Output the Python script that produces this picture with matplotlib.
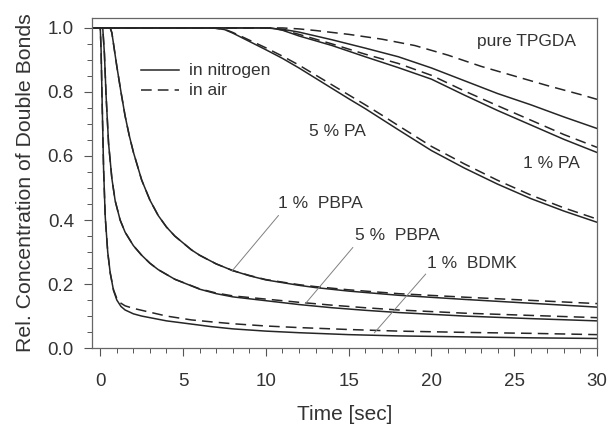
import matplotlib.pyplot as plt
from matplotlib.ticker import MultipleLocator

plt.rcParams['font.family'] = ['Liberation Sans', 'DejaVu Sans']

# pure TPGDA
tpgda_n_t = [-0.5, 10.0, 11, 12, 14, 16, 18, 20, 22, 24, 26, 28, 30]
tpgda_n_c = [1.0, 1.0, 0.996, 0.987, 0.963, 0.937, 0.91, 0.875, 0.835, 0.795, 0.76, 0.722, 0.686]
tpgda_a_t = [-0.5, 11.0, 12, 13, 15, 17, 19, 21, 23, 25, 27, 29, 30]
tpgda_a_c = [1.0, 1.0, 0.997, 0.992, 0.98, 0.965, 0.945, 0.915, 0.88, 0.85, 0.82, 0.792, 0.777]

# 1 % PA
pa1_n_t = [-0.5, 10.3, 11, 12, 14, 16, 18, 20, 22, 24, 26, 28, 30]
pa1_n_c = [1.0, 1.0, 0.993, 0.975, 0.945, 0.91, 0.876, 0.84, 0.79, 0.742, 0.697, 0.652, 0.611]
pa1_a_c = [1.0, 1.0, 0.994, 0.98, 0.95, 0.918, 0.889, 0.852, 0.803, 0.757, 0.712, 0.667, 0.627]

# 5 % PA
pa5_t = [-0.5, 6.8, 7.5, 8, 9, 10, 11, 12, 13, 14, 15, 16, 17, 18, 20, 22, 24, 26, 28, 30]
pa5_n_c = [1.0, 1.0, 0.995, 0.984, 0.958, 0.932, 0.905, 0.875, 0.843, 0.811, 0.779, 0.748,
           0.715, 0.682, 0.617, 0.562, 0.512, 0.467, 0.428, 0.393]
pa5_a_c = [1.0, 1.0, 0.996, 0.986, 0.962, 0.938, 0.912, 0.884, 0.853, 0.822, 0.791, 0.760,
           0.728, 0.695, 0.630, 0.575, 0.524, 0.478, 0.438, 0.403]

# 1 % PBPA
pbpa1_t = [-0.5, 0.6, 0.7, 0.8, 1.0, 1.25, 1.5, 1.75, 2.0, 2.5, 3.0, 3.5, 4.0, 4.5, 5.5,
           6.0, 7.0, 8.0, 9, 10, 12, 13, 15, 18, 22, 26, 30]
pbpa1_n_c = [1.0, 1.0, 0.985, 0.95, 0.88, 0.8, 0.725, 0.664, 0.612, 0.525, 0.462, 0.414,
             0.378, 0.35, 0.307, 0.29, 0.263, 0.242, 0.226, 0.213, 0.196, 0.189, 0.178,
             0.165, 0.152, 0.140, 0.128]
pbpa1_a_c = [1.0, 1.0, 0.985, 0.95, 0.88, 0.8, 0.725, 0.664, 0.612, 0.525, 0.462, 0.414,
             0.378, 0.35, 0.307, 0.29, 0.263, 0.242, 0.227, 0.214, 0.198, 0.192, 0.182,
             0.170, 0.159, 0.149, 0.139]

# 5 % PBPA
pbpa5_t = [-0.5, 0.15, 0.25, 0.35, 0.5, 0.7, 0.9, 1.2, 1.5, 2.0, 2.5, 3.0, 3.5, 4.5, 6.0,
           7.0, 8.0, 10, 12, 14, 16, 18, 22, 26, 30]
pbpa5_n_c = [1.0, 1.0, 0.92, 0.79, 0.64, 0.53, 0.46, 0.40, 0.362, 0.32, 0.29, 0.265, 0.245,
             0.215, 0.184, 0.17, 0.16, 0.148, 0.136, 0.126, 0.118, 0.111, 0.100, 0.092, 0.085]
pbpa5_a_c = [1.0, 1.0, 0.92, 0.79, 0.64, 0.53, 0.46, 0.40, 0.362, 0.32, 0.29, 0.265, 0.245,
             0.215, 0.185, 0.172, 0.163, 0.153, 0.143, 0.134, 0.126, 0.119, 0.109, 0.102, 0.095]

# 1 % BDMK
bdmk_t = [-0.5, 0.0, 0.05, 0.1, 0.2, 0.3, 0.45, 0.6, 0.8, 1.0, 1.25, 1.5, 2.0, 2.5, 4.0,
          5.5, 6.7, 8.0, 10, 12, 15, 18, 22, 26, 30]
bdmk_n_c = [1.0, 1.0, 0.93, 0.8, 0.56, 0.41, 0.30, 0.235, 0.18, 0.15, 0.13, 0.119, 0.107,
            0.10, 0.085, 0.075, 0.067, 0.06, 0.053, 0.048, 0.042, 0.038, 0.035, 0.032, 0.030]
bdmk_a_c = [1.0, 1.0, 0.93, 0.8, 0.56, 0.41, 0.30, 0.235, 0.182, 0.155, 0.14, 0.132, 0.124,
            0.118, 0.10, 0.088, 0.082, 0.076, 0.069, 0.064, 0.058, 0.053, 0.049, 0.046, 0.042]

# labels: (text, x, y)
labels = [("pure TPGDA", 22.75, 0.957), ("5 % PA", 12.6, 0.675), ("1 % PA", 25.55, 0.576),
          ("1 %  PBPA", 10.76, 0.451), ("5 %  PBPA", 15.36, 0.351), ("1 %  BDMK", 19.75, 0.263)]
# leader lines: (x0, y0, x1, y1)
leaders = [(10.76, 0.414, 7.96, 0.241), (15.25, 0.314, 12.36, 0.137), (19.65, 0.231, 16.56, 0.048)]

col = '#262626'
txtcol = '#333333'
fig = plt.figure(figsize=(6.1, 4.25), dpi=100)
ax = fig.add_axes([0.1508, 0.181, 0.8279, 0.7766])

solid = dict(color=col, lw=1.1, ls='-')
dashed = dict(color=col, lw=1.1, ls=(0, (7, 4)))

ax.plot(tpgda_n_t, tpgda_n_c, **solid)
ax.plot(tpgda_a_t, tpgda_a_c, **dashed)
ax.plot(pa1_n_t, pa1_n_c, **solid)
ax.plot(pa1_n_t, pa1_a_c, **dashed)
ax.plot(pa5_t, pa5_n_c, **solid)
ax.plot(pa5_t, pa5_a_c, **dashed)
ax.plot(pbpa1_t, pbpa1_n_c, **solid)
ax.plot(pbpa1_t, pbpa1_a_c, **dashed)
ax.plot(pbpa5_t, pbpa5_n_c, **solid)
ax.plot(pbpa5_t, pbpa5_a_c, **dashed)
ax.plot(bdmk_t, bdmk_n_c, **solid)
ax.plot(bdmk_t, bdmk_a_c, **dashed)

for txt, x, y in labels:
    ax.text(x, y, txt, fontsize=12.5, color=txtcol, va='center', ha='left')
for x0, y0, x1, y1 in leaders:
    ax.plot([x0, x1], [y0, y1], color='#808080', lw=0.7)

# legend drawn by hand like the original
ax.plot([2.46, 4.76], [0.868, 0.868], **solid)
ax.plot([2.46, 4.76], [0.806, 0.806], **dashed)
ax.text(5.37, 0.868, "in nitrogen", fontsize=12.5, color=txtcol, va='center')
ax.text(5.37, 0.806, "in air", fontsize=12.5, color=txtcol, va='center')

ax.set_xlim(-0.5, 30)
ax.set_ylim(0, 1.031)
ax.xaxis.set_major_locator(MultipleLocator(5))
ax.xaxis.set_minor_locator(MultipleLocator(1))
ax.yaxis.set_minor_locator(MultipleLocator(0.05))
ax.set_yticks([0, 0.2, 0.4, 0.6, 0.8, 1.0])
ax.set_yticklabels(['0.0', '0.2', '0.4', '0.6', '0.8', '1.0'])
ax.tick_params(which='both', direction='out', top=False, right=False, colors='#555555',
               labelcolor=txtcol, labelsize=13.5)
ax.tick_params(which='major', length=6, width=0.8)
ax.tick_params(axis='x', which='major', pad=12)
ax.tick_params(axis='y', which='major', pad=7)
ax.tick_params(which='minor', length=3.5, width=0.7)
for s in ax.spines.values():
    s.set_color('#666666')
    s.set_linewidth(0.9)

ax.set_xlabel('Time [sec]', fontsize=15, color=txtcol, labelpad=11)
ax.set_ylabel('Rel. Concentration of Double Bonds', fontsize=15.3, color=txtcol, labelpad=9)

fig.savefig('out.png', dpi=100)
